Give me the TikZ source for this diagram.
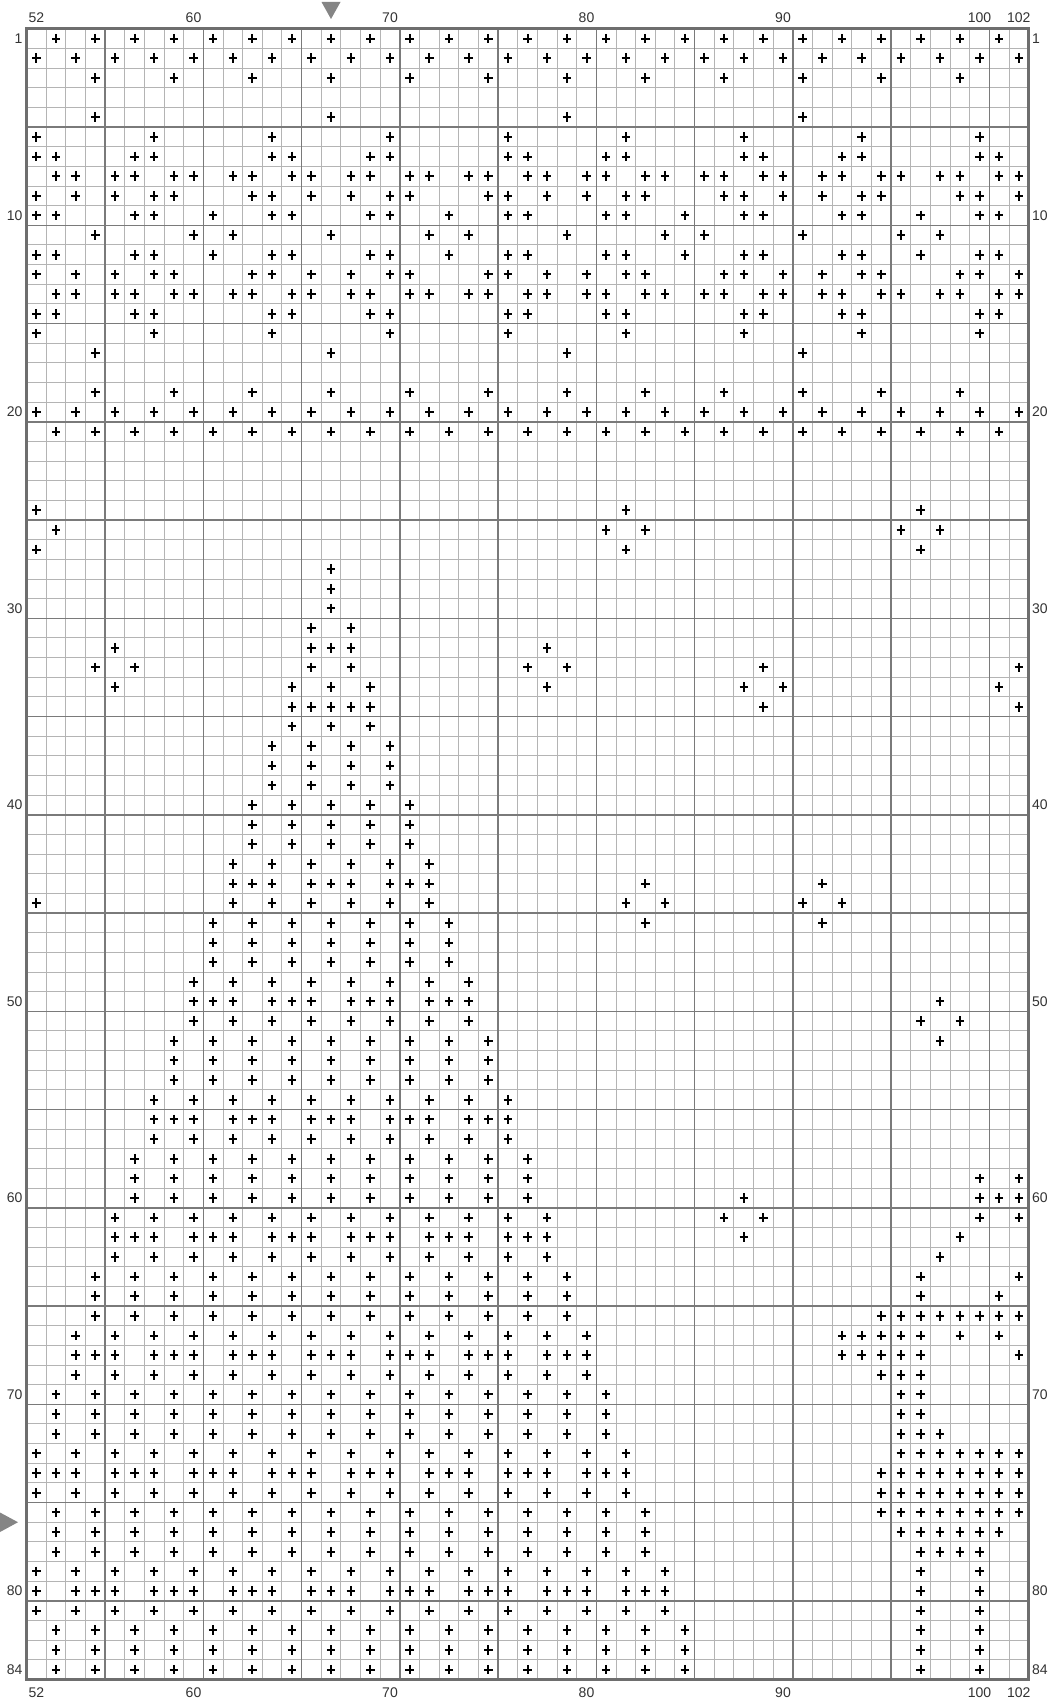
\documentclass[tikz,border=0pt]{standalone}
\usepackage{fontspec}
\setmainfont{Liberation Sans}
\definecolor{gridlight}{HTML}{B4B4B4}
\definecolor{griddark}{HTML}{7A7A7A}
\definecolor{gridborder}{HTML}{6E6E6E}
\definecolor{labelcol}{HTML}{333333}
\definecolor{markcol}{HTML}{858585}
\tikzset{
  gridthin/.style={draw=gridlight, line width=1pt},
  gridfive/.style={draw=griddark, line width=1.6pt},
  gridframe/.style={draw=gridborder, line width=2.6pt},
  stitchpen/.style={draw=black, line width=2pt},
  axlabel/.style={inner sep=0pt, text=labelcol, font=\fontsize{14}{14}\selectfont},
  centremark/.style={fill=markcol, draw=none}
}
\newcommand\stch[2]{\draw[stitchpen] ({#1-51.5-0.215},{#2-0.5}) -- ++(0.43,0) ({#1-51.5},{#2-0.5-0.245}) -- ++(0,0.49);}
\newcommand\srw[2]{\foreach \c in {#2} {\stch{\c}{#1}}}
\newcommand\trw[2]{\foreach \c in {#2} {\stch{\c-1}{#1}\stch{\c}{#1}\stch{\c+1}{#1}}}
\newcommand\prw[2]{\foreach \c in {#2} {\stch{\c}{#1}\stch{\c+1}{#1}}}
\begin{document}
\begin{tikzpicture}[x=1pt,y=-1pt]
\useasboundingbox (0,0) rectangle (1051,1702);
\fill[white] (0,0) rectangle (1051,1702);
\fill[centremark] (321.5,2) -- (340.5,2) -- (331,19) -- cycle;
\fill[centremark] (0,1512.5) -- (18,1522.2) -- (0,1532) -- cycle;
\begin{scope}[shift={(26.5,28.8)},x=19.65pt,y=-19.65pt]
  \foreach \i in {1,...,50} \draw[gridthin] (\i,0) -- (\i,84);
  \foreach \j in {1,...,83} \draw[gridthin] (0,\j) -- (51,\j);
  \foreach \i in {4,9,...,49} \draw[gridfive] (\i,0) -- (\i,84);
  \foreach \j in {5,10,...,80} \draw[gridfive] (0,\j) -- (51,\j);
  \draw[gridframe] (0,0) rectangle (51,84);
  % column labels
  \foreach \c in {52,60,70,80,90,100,102} {
    \node[axlabel] (top\c) at ({\c-51.5},-0.55) {\c};
    \node[axlabel] (bot\c) at ({\c-51.5},84.7) {\c};
  }
  % row labels
  \foreach \r in {1,10,20,30,40,50,60,70,80,84} {
    \node[axlabel, anchor=east] (left\r) at (-0.2,{\r-0.5}) {\r};
    \node[axlabel, anchor=west] (right\r) at (51.17,{\r-0.5}) {\r};
  }
  % stitches
  \srw{1}{53,55,...,101}
  \srw{2}{52,54,...,102}
  \srw{3}{55,59,...,99}
  \srw{5}{55,67,79,91}
  \srw{6}{52,58,...,100}
  \srw{7}{52,53,57,58,64,65,69,70,76,77,81,82,88,89,93,94,100,101}
  \prw{8}{53,56,...,101}
  \srw{9}{52,54,56,58,59,63,64,66,68,70,71,75,76,78,80,82,83,87,88,90,92,94,95,99,100,102}
  \srw{10}{52,53,57,58,61,64,65,69,70,73,76,77,81,82,85,88,89,93,94,97,100,101}
  \srw{11}{55,60,62,67,72,74,79,84,86,91,96,98}
  \srw{12}{52,53,57,58,61,64,65,69,70,73,76,77,81,82,85,88,89,93,94,97,100,101}
  \srw{13}{52,54,56,58,59,63,64,66,68,70,71,75,76,78,80,82,83,87,88,90,92,94,95,99,100,102}
  \prw{14}{53,56,...,101}
  \srw{15}{52,53,57,58,64,65,69,70,76,77,81,82,88,89,93,94,100,101}
  \srw{16}{52,58,...,100}
  \srw{17}{55,67,79,91}
  \srw{19}{55,59,...,99}
  \srw{20}{52,54,...,102}
  \srw{21}{53,55,...,101}
  \srw{25}{52,82,97}
  \srw{26}{53,81,83,96,98}
  \srw{27}{52,82,97}
  \srw{28}{67}
  \srw{29}{67}
  \srw{30}{67}
  \srw{31}{66,68}
  \trw{32}{67}
  \srw{32}{56,78}
  \srw{33}{55,57,66,68,77,79,89,102}
  \srw{34}{56,65,67,69,78,88,90,101}
  \srw{35}{65,66,67,68,69,89,102}
  \srw{36}{65,67,69}
  \srw{37}{64,66,68,70}
  \srw{38}{64,66,68,70}
  \srw{39}{64,66,68,70}
  \srw{40}{63,65,...,71}
  \srw{41}{63,65,...,71}
  \srw{42}{63,65,...,71}
  \srw{43}{62,64,...,72}
  \trw{44}{63,67,71}
  \srw{44}{83,92}
  \srw{45}{52,62,64,66,68,70,72,82,84,91,93}
  \srw{46}{61,63,...,73}
  \srw{46}{83,92}
  \srw{47}{61,63,...,73}
  \srw{48}{61,63,...,73}
  \srw{49}{60,62,...,74}
  \trw{50}{61,65,69,73}
  \srw{50}{98}
  \srw{51}{60,62,...,74}
  \srw{51}{97,99}
  \srw{52}{59,61,...,75}
  \srw{52}{98}
  \srw{53}{59,61,...,75}
  \srw{54}{59,61,...,75}
  \srw{55}{58,60,...,76}
  \trw{56}{59,63,...,75}
  \srw{57}{58,60,...,76}
  \srw{58}{57,59,...,77}
  \srw{59}{57,59,...,77}
  \srw{59}{100,102}
  \srw{60}{57,59,...,77}
  \srw{60}{88,100,101,102}
  \srw{61}{56,58,...,78}
  \srw{61}{87,89,100,102}
  \trw{62}{57,61,...,77}
  \srw{62}{88,99}
  \srw{63}{56,58,...,78}
  \srw{63}{98}
  \srw{64}{55,57,...,79}
  \srw{64}{97,102}
  \srw{65}{55,57,...,79}
  \srw{65}{97,101}
  \srw{66}{55,57,...,79}
  \srw{66}{95,96,...,102}
  \srw{67}{54,56,...,80}
  \srw{67}{93,94,95,96,97,99,101}
  \trw{68}{55,59,...,79}
  \srw{68}{93,94,95,96,97,102}
  \srw{69}{54,56,...,80}
  \srw{69}{95,96,97}
  \srw{70}{53,55,...,81}
  \srw{70}{96,97}
  \srw{71}{53,55,...,81}
  \srw{71}{96,97}
  \srw{72}{53,55,...,81}
  \srw{72}{96,97,98}
  \srw{73}{52,54,...,82}
  \srw{73}{96,97,...,102}
  \trw{74}{53,57,...,81}
  \srw{74}{95,96,...,102}
  \srw{75}{52,54,...,82}
  \srw{75}{95,96,...,102}
  \srw{76}{53,55,...,83}
  \srw{76}{95,96,...,102}
  \srw{77}{53,55,...,83}
  \srw{77}{96,97,...,101}
  \srw{78}{53,55,...,83}
  \srw{78}{97,98,99,100}
  \srw{79}{52,54,...,84}
  \srw{79}{97,100}
  \srw{80}{52,97,100}
  \trw{80}{55,59,...,83}
  \srw{81}{52,54,...,84}
  \srw{81}{97,100}
  \srw{82}{53,55,...,85}
  \srw{82}{97,100}
  \srw{83}{53,55,...,85}
  \srw{83}{97,100}
  \srw{84}{53,55,...,85}
  \srw{84}{97,100}
\end{scope}
\end{tikzpicture}
\end{document}
